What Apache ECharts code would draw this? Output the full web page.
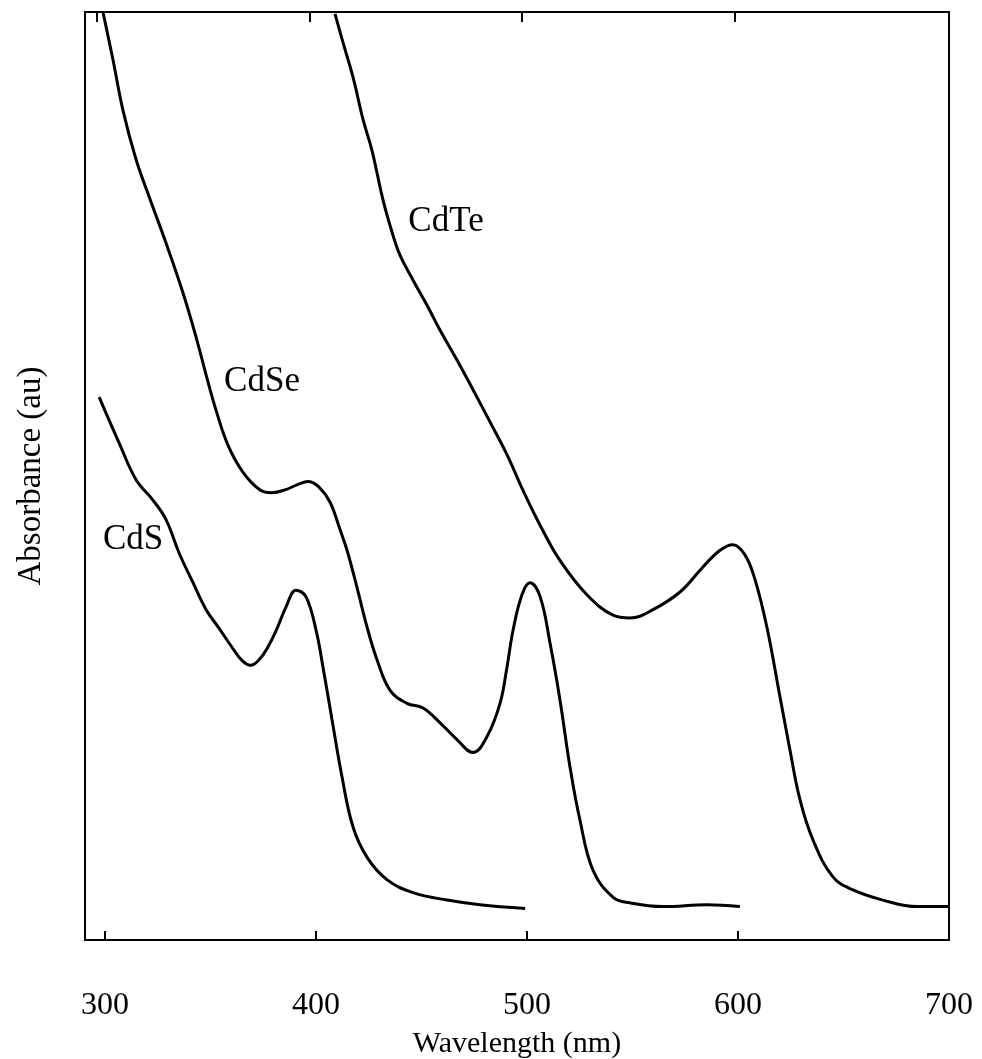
<!DOCTYPE html>
<html>
<head>
<meta charset="utf-8">
<script src="https://cdn.jsdelivr.net/npm/echarts@6/dist/echarts.min.js"></script>
<style>
  html, body { margin: 0; padding: 0; background: #fff; }
  #chart { width: 982px; height: 1059px; }
</style>
</head>
<body>
<div id="chart"></div>
<script>
// wavelength (nm) / absorbance (au, arbitrary 0-100)
var cdsX = [297.2, 306.6, 314.7, 322.7, 328.9, 335.1, 341.7, 347.9, 354.0, 360.0, 365.0, 369.0, 373.0, 377.0, 381.0, 385.8, 390.5, 395.2, 400.0, 403.3, 407.6, 412.3, 417.5, 424.2, 433.6, 446.0, 462.1, 477.7, 499.1];
var cdsY = [58.5, 53.6, 49.6, 47.4, 45.3, 41.7, 38.5, 35.6, 33.6, 31.6, 30.1, 29.6, 30.2, 31.5, 33.3, 35.9, 37.7, 37.0, 33.4, 29.4, 23.7, 17.6, 12.2, 8.9, 6.5, 5.1, 4.3, 3.8, 3.4];

var cdseX = [299.1, 303.8, 308.5, 314.7, 320.9, 328.9, 337.0, 343.1, 347.9, 352.6, 358.3, 365.4, 373.5, 379.1, 385.3, 391.5, 396.2, 401.4, 406.6, 411.4, 414.7, 419.4, 424.2, 428.9, 435.1, 443.1, 450.7, 458.8, 466.8, 474.4, 481.0, 487.2, 490.5, 493.4, 497.6, 501.4, 506.2, 510.9, 515.6, 520.4, 525.1, 531.3, 540.8, 548.8, 564.5, 585.3, 600.9];
var cdseY = [99.9, 94.8, 89.4, 84.1, 80.1, 75.1, 69.7, 65.0, 60.9, 57.1, 53.3, 50.4, 48.5, 48.2, 48.5, 49.1, 49.4, 48.8, 47.2, 44.2, 42.0, 38.0, 33.7, 30.2, 26.9, 25.5, 25.0, 23.4, 21.6, 20.2, 21.9, 25.5, 29.4, 33.4, 37.2, 38.5, 37.0, 32.0, 25.9, 18.6, 12.9, 7.5, 4.6, 4.0, 3.6, 3.8, 3.6];

var cdteX = [409.0, 412.8, 417.5, 422.3, 426.5, 431.8, 436.0, 439.8, 446.0, 452.6, 458.8, 466.8, 474.4, 482.5, 490.5, 497.6, 506.2, 515.6, 528.4, 540.8, 548.8, 559.7, 572.5, 583.4, 591.5, 597.6, 603.3, 608.1, 613.7, 619.9, 624.6, 629.4, 635.5, 645.0, 654.5, 668.7, 684.8, 700.0];
var cdteY = [99.8, 96.7, 93.0, 88.4, 85.1, 79.7, 76.3, 73.8, 71.1, 68.4, 65.7, 62.5, 59.3, 55.8, 52.3, 48.7, 44.7, 40.9, 37.2, 35.0, 34.7, 35.6, 37.5, 40.2, 42.0, 42.6, 41.5, 38.8, 33.7, 26.2, 20.5, 15.1, 10.8, 6.8, 5.4, 4.3, 3.6, 3.6];

var xTicks = [300, 400, 500, 600, 700];
var topTicks = [300, 400, 500, 600];

// curve names and where they are written
var labelNames = ['CdS', 'CdSe', 'CdTe'];
var labelX = [313.3, 374.4, 461.6];
var labelY = [43.1, 60.1, 77.4];

function zip(xs, ys) {
  return xs.map(function (x, i) { return [x, ys[i]]; });
}

var serif = 'Liberation Serif';
var chart = echarts.init(document.getElementById('chart'));

var lineStyle = { color: '#000', width: 3 };

function curve(name, data) {
  return {
    name: name,
    type: 'line',
    data: data,
    showSymbol: false,
    smooth: 0.4,
    lineStyle: lineStyle,
    silent: true
  };
}

var series = [
  curve('CdS', zip(cdsX, cdsY)),
  curve('CdSe', zip(cdseX, cdseY)),
  curve('CdTe', zip(cdteX, cdteY))
];

// text labels next to each curve
series.push({
  type: 'scatter',
  data: labelNames.map(function (n, i) { return { name: n, value: [labelX[i], labelY[i]] }; }),
  symbolSize: 0,
  silent: true,
  itemStyle: { opacity: 1 },
  label: {
    show: true,
    position: 'inside',
    formatter: '{b}',
    fontFamily: serif,
    fontSize: 35,
    color: '#000'
  }
});

chart.setOption({
  animation: false,
  backgroundColor: '#fff',
  grid: {
    left: 85, right: 33, top: 12, bottom: 119,
    outerBoundsMode: 'none',
    containLabel: false,
    show: true,
    borderColor: '#000',
    borderWidth: 2
  },
  xAxis: [{
    type: 'value',
    min: 290.5,
    max: 700,
    name: 'Wavelength (nm)',
    nameLocation: 'middle',
    nameGap: 89,
    nameTextStyle: { fontFamily: serif, fontSize: 30, color: '#000' },
    axisLine: { show: true, lineStyle: { color: '#000', width: 2 } },
    axisTick: { show: true, inside: true, length: 9, customValues: xTicks, lineStyle: { color: '#000', width: 2 } },
    axisLabel: { customValues: xTicks, margin: 50, fontFamily: serif, fontSize: 32, color: '#000' },
    splitLine: { show: false }
  }, {
    // ticks along the top edge sit slightly left of the bottom ones
    type: 'value',
    position: 'top',
    min: 294.4,
    max: 701,
    axisLine: { show: false },
    axisTick: { show: true, inside: true, length: 10, customValues: topTicks, lineStyle: { color: '#000', width: 2 } },
    axisLabel: { show: false },
    splitLine: { show: false }
  }],
  yAxis: {
    type: 'value',
    min: 0,
    max: 100,
    name: 'Absorbance (au)',
    nameLocation: 'middle',
    nameGap: 37,
    nameTextStyle: { fontFamily: serif, fontSize: 33, color: '#000' },
    axisLine: { show: true, lineStyle: { color: '#000', width: 2 } },
    axisTick: { show: false },
    axisLabel: { show: false },
    splitLine: { show: false }
  },
  series: series
});
</script>
</body>
</html>
